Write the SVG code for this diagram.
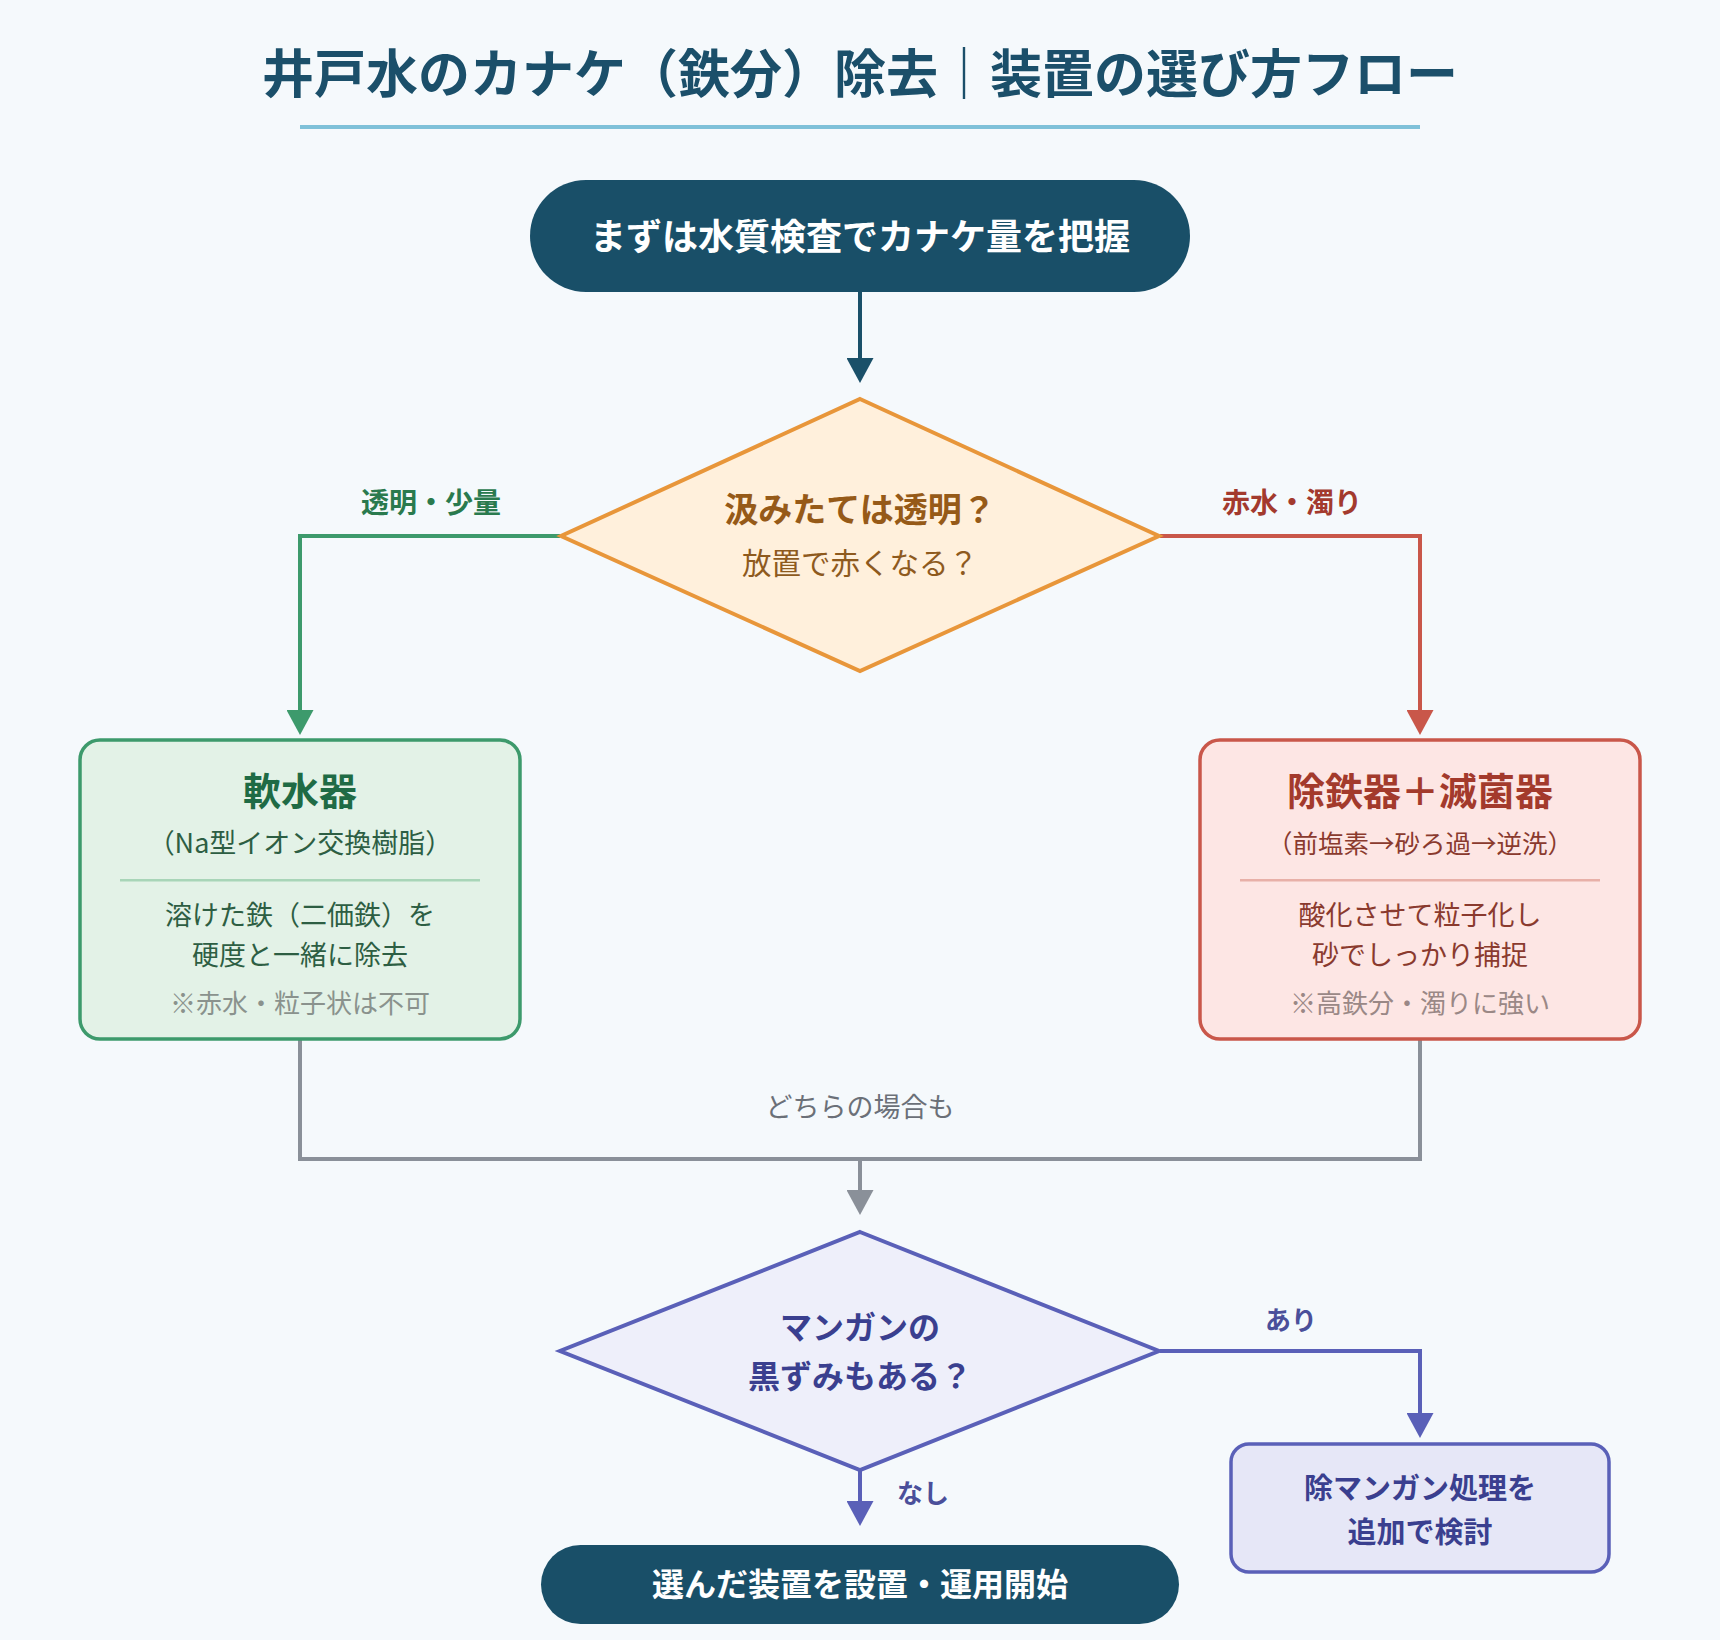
<svg xmlns="http://www.w3.org/2000/svg" width="1720" height="1640" viewBox="0 0 1720 1640">
<style>
text{font-family:"Noto Sans CJK JP","Noto Sans",sans-serif;text-anchor:middle}
.t{font-size:52px;fill:#1b4f6a;font-weight:700}
.pilltext{fill:#ffffff;font-weight:700}
.ln{fill:none;stroke-width:4}
.ttl{font-size:38px;font-weight:700}
.body{font-size:27px}
.note{font-size:26px}
.lab{font-size:28px;font-weight:700}
</style>
<defs>
<marker id="aNavy" viewBox="0 0 25 27" refX="15" refY="13.5" markerWidth="25" markerHeight="27" markerUnits="userSpaceOnUse" orient="auto"><path d="M0,0 L25,13.5 L0,27 Z" fill="#1a5069"/></marker>
<marker id="aGreen" viewBox="0 0 25 27" refX="15" refY="13.5" markerWidth="25" markerHeight="27" markerUnits="userSpaceOnUse" orient="auto"><path d="M0,0 L25,13.5 L0,27 Z" fill="#3d9a6c"/></marker>
<marker id="aRed" viewBox="0 0 25 27" refX="15" refY="13.5" markerWidth="25" markerHeight="27" markerUnits="userSpaceOnUse" orient="auto"><path d="M0,0 L25,13.5 L0,27 Z" fill="#c9574a"/></marker>
<marker id="aGray" viewBox="0 0 25 27" refX="15" refY="13.5" markerWidth="25" markerHeight="27" markerUnits="userSpaceOnUse" orient="auto"><path d="M0,0 L25,13.5 L0,27 Z" fill="#8a9099"/></marker>
<marker id="aInd" viewBox="0 0 25 27" refX="15" refY="13.5" markerWidth="25" markerHeight="27" markerUnits="userSpaceOnUse" orient="auto"><path d="M0,0 L25,13.5 L0,27 Z" fill="#5a60b8"/></marker>
</defs>
<rect x="0" y="0" width="1720" height="1640" fill="#f5f9fc"/>

<g id="title">
<text class="t" x="860" y="93">井戸水のカナケ（鉄分）除去｜装置の選び方フロー</text>
<rect x="300" y="125" width="1120" height="4" fill="#7fc1d9"/>
</g>

<g id="connectors">
<path class="ln" stroke="#1a5069" d="M860,291 V373" marker-end="url(#aNavy)"/>
<path class="ln" stroke="#3d9a6c" d="M560,536 H300 V725" marker-end="url(#aGreen)"/>
<path class="ln" stroke="#c9574a" d="M1160,536 H1420 V725" marker-end="url(#aRed)"/>
<path class="ln" stroke="#8a9099" d="M300,1040 V1159 H1420 V1040"/>
<path class="ln" stroke="#8a9099" d="M860,1159 V1205" marker-end="url(#aGray)"/>
<path class="ln" stroke="#5a60b8" d="M1160,1351 H1420 V1428" marker-end="url(#aInd)"/>
<path class="ln" stroke="#5a60b8" d="M860,1471 V1516" marker-end="url(#aInd)"/>
<text class="lab" x="431" y="513" fill="#2a7a4e">透明・少量</text>
<text class="lab" x="1292" y="513" fill="#a33a2e">赤水・濁り</text>
<text x="860" y="1117" font-size="27" fill="#6b7078">どちらの場合も</text>
<text x="1291" y="1330" font-size="26" font-weight="700" fill="#4a4f9a">あり</text>
<text x="923" y="1503" font-size="26" font-weight="700" fill="#4a4f9a">なし</text>
</g>

<g id="start">
<rect x="530" y="180" width="660" height="112" rx="56" fill="#194f68"/>
<text class="pilltext" x="860" y="250" font-size="36">まずは水質検査でカナケ量を把握</text>
</g>

<g id="decision1">
<polygon points="860,399 1159,536 860,671 561,536" fill="#fff0dc" stroke="#e8963a" stroke-width="4"/>
<text x="860" y="522" font-size="34" font-weight="700" fill="#965a18">汲みたては透明？</text>
<text x="860" y="574" font-size="29.5" fill="#8e5a1e">放置で赤くなる？</text>
</g>

<g id="softener">
<rect x="80" y="740" width="440" height="299" rx="20" fill="#e3f2e7" stroke="#3d9a6c" stroke-width="3.5"/>
<text class="ttl" x="300" y="805" fill="#1f6b45">軟水器</text>
<text x="300" y="853" font-size="27" fill="#2d5e43">（Na型イオン交換樹脂）</text>
<rect x="120" y="879" width="360" height="2.5" fill="#a8d5b8"/>
<text class="body" x="300" y="925" fill="#2d5e43">溶けた鉄（二価鉄）を</text>
<text class="body" x="300" y="965" fill="#2d5e43">硬度と一緒に除去</text>
<text class="note" x="300" y="1013" fill="#8a928d">※赤水・粒子状は不可</text>
</g>

<g id="ironremover">
<rect x="1200" y="740" width="440" height="299" rx="20" fill="#fde6e4" stroke="#c9574a" stroke-width="3.5"/>
<text class="ttl" x="1420" y="805" fill="#a33a2c">除鉄器＋滅菌器</text>
<text x="1420" y="853" font-size="25.5" fill="#8a3a2e">（前塩素→砂ろ過→逆洗）</text>
<rect x="1240" y="879" width="360" height="2.5" fill="#e8b0a8"/>
<text class="body" x="1420" y="925" fill="#8a3a2e">酸化させて粒子化し</text>
<text class="body" x="1420" y="965" fill="#8a3a2e">砂でしっかり捕捉</text>
<text class="note" x="1420" y="1013" fill="#9a8886">※高鉄分・濁りに強い</text>
</g>

<g id="decision2">
<polygon points="860,1232 1159,1351 860,1470 560,1351" fill="#eeeffa" stroke="#5a60b8" stroke-width="4"/>
<text x="860" y="1339" font-size="32" font-weight="700" fill="#3a3f8f">マンガンの</text>
<text x="860" y="1388" font-size="32" font-weight="700" fill="#3a3f8f">黒ずみもある？</text>
</g>

<g id="manganese">
<rect x="1231" y="1444" width="378" height="128" rx="18" fill="#e6e7f7" stroke="#5a60b8" stroke-width="3.5"/>
<text x="1420" y="1499" font-size="29" font-weight="700" fill="#3a3f8f">除マンガン処理を</text>
<text x="1420" y="1543" font-size="29" font-weight="700" fill="#3a3f8f">追加で検討</text>
</g>

<g id="end">
<rect x="541" y="1545" width="638" height="79" rx="39.5" fill="#194f68"/>
<text class="pilltext" x="860" y="1596" font-size="32">選んだ装置を設置・運用開始</text>
</g>
</svg>
